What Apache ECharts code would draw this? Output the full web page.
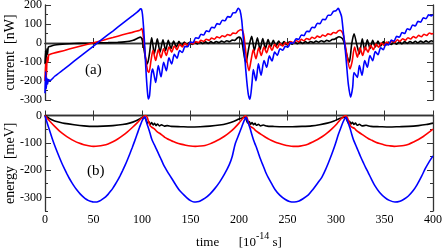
<!DOCTYPE html>
<html>
<head>
<meta charset="utf-8">
<script src="https://cdn.jsdelivr.net/npm/echarts@6/dist/echarts.min.js"></script>
<style>html,body{margin:0;padding:0;background:#fff;}#c{width:443px;height:249px;}</style>
</head>
<body>
<div id="c"></div>
<script>
// x ticks / labels
var xTicks = [0, 50, 100, 150, 200, 250, 300, 350, 400];
var curTicks = [-300, -200, -100, 0, 100, 200];
var enTicks = [-300, -200, -100, 0];

// panel (a): current [nW], [time, value]
var curBlack = [[0,-110],[0.6,-40],[1.2,-120],[1.9,-30],[2.6,-60],[3.4,-22],[5,-18],[8,-13],[12,-9],[18,-6],[25,-4],[35,-2],[45,-1],[55,1],[65,2],[75,4],[82,6],[87,9],[91,14],[94,21],[96.5,28],[98.5,31],
[100,20],[101.4,-13],[102.6,-50],[103.8,-84],[105.3,-110],[106.6,-90],[107.9,-48],[109,0],[110,27],[112.7,-57],[115.8,22],[118.6,-48],[121.6,17],[124.4,-39],[127.1,14],[129.9,-30],[132.6,10],[135.4,-21],[138.1,9],[140.8,-16],[143.6,5],[146.3,-10],[149,4],[151.8,-7],[154.5,4],[157.2,-5],[160,5],[162.7,-3],[165.5,6],[168.2,-2],[171,7],[173.7,0],[176.5,8],[179.2,2],[182,10],[184.7,4],[187.5,12],[190.2,7],[193,15],[195.7,14],[198,25],[200,31],[201.5,28],
[203,10],[204.5,-40],[206,-85],[207.2,-101],[208.4,-75],[209.6,-39],[211.3,5],[213.1,35],[215.9,-39],[219,28],[221.7,-35],[224.5,23],[227.2,-30],[230,18],[232.6,-21],[235.4,14],[238.1,-18],[240.9,10],[243.6,-12],[246.4,7],[249.1,-9],[251.9,6],[254.6,-6],[257.4,5],[260.1,-4],[262.9,6],[265.6,-2],[268.4,7],[271.1,0],[273.9,8],[276.6,2],[279.4,10],[282.1,4],[284.9,12],[287.6,6],[290.4,14],[293.1,9],[296,18],[298.5,20],[301,28],[303,33],
[305,30],[307,20],[309,-10],[311,-60],[313.7,-101],[315,-60],[316.2,-4],[318.6,49],[321.5,-10],[324.1,-57],[327.1,22],[329.6,-39],[332.3,17],[335.1,-30],[337.8,14],[340.5,-21],[343.3,10],[346,-16],[348.8,7],[351.5,-11],[354.3,5],[357,-8],[359.8,5],[362.5,-6],[365.3,6],[368,-4],[370.8,7],[373.5,-2],[376.3,8],[379,0],[381.8,9],[384.5,1],[387.3,10],[390,3],[392.8,11],[395.5,4],[398.3,12],[400,8]];

var curRed = [[0,-200],[0.7,-110],[1.4,-180],[2.2,-75],[3,-100],[3.8,-62],[5,-60],[8.6,-54],[20,-39],[30,-25],[40,-12],[50,1],[60,15],[70,29],[80,43],[90,56],[95,63],[98,68],[99.7,76],[101,50],[101.7,14],[102.8,-35],[103.8,-84],[105.8,-146],[107.2,-155],[109.3,-92],[111.3,-39],[114.1,-92],[116.8,-35],[119.6,-78],[122.3,-30],[125.1,-66],[127.8,-21],[130.6,-48],[133.3,-16],[136.1,-35],[138.8,-7],[141.6,-21],[144.3,-2],[147.1,-12],[149.8,3],[152.6,-5],[155.3,8],[158.1,2],[160.8,14],[163.6,8],[166.3,20],[169.1,14],[171.8,26],[174.6,20],[177.3,32],[180.1,27],[182.8,38],[185.6,33],[188.3,45],[191.1,40],[193.8,52],[196.6,50],[199,62],[201.5,70],[203.5,66],
[205.2,32],[206.6,-30],[208,-92],[210.3,-146],[212.4,-92],[214.8,-35],[217.5,-83],[220.3,-25],[223,-66],[225.8,-21],[228.5,-52],[231.3,-12],[234,-39],[236.8,-7],[239.5,-27],[242.3,-2],[245,-16],[247.8,3],[250.5,-8],[253.3,8],[256,0],[258.8,13],[261.5,6],[264.3,19],[267,12],[269.8,24],[272.5,18],[275.3,30],[278,24],[280.8,36],[283.5,30],[286.3,42],[289,36],[291.8,48],[294.5,44],[297.3,55],[300,52],[302,62],[304.1,67],[306,60],
[307.6,41],[309.3,-5],[311,-57],[314.4,-137],[316.5,-101],[319.2,-21],[322,-75],[324.7,-25],[327.5,-66],[330.2,-21],[333,-48],[335.7,-12],[338.5,-35],[341.2,-5],[344,-22],[346.7,0],[349.5,-12],[352.2,5],[355,-4],[357.7,11],[360.5,3],[363.2,17],[366,9],[368.7,22],[371.5,15],[374.2,28],[377,21],[379.7,34],[382.5,27],[385.2,40],[388,33],[390.7,46],[393.5,40],[396.2,53],[399,47],[400,52]];

var curBlue = [[0,-265],[0.7,-150],[1.3,-240],[2,-185],[2.7,-215],[3.5,-192],[5,-198],[10,-175],[20,-136],[30,-96],[40,-56],[50,-16],[60,24],[70,63],[80,103],[90,143],[95,163],[97,172],[98.5,180],[99.5,178],[100.5,150],[101.5,90],[102.5,10],[103.5,-90],[104.5,-180],[105.5,-250],[106.5,-295],[107.7,-280],[108.7,-220],[109.8,-160],[111,-137],[112.5,-170],[114.1,-208],[116.8,-119],[119.6,-178],[122.3,-101],[125.1,-146],[127.8,-78],[130.6,-110],[133.3,-60],[136.1,-80],[138.8,-40],[141.6,-50],[144.3,-18],[147.1,-20],[149.8,5],[152.6,2],[155.3,28],[158.1,24],[160.8,46],[163.6,42],[166.3,64],[169.1,60],[171.8,83],[174.6,79],[177.3,102],[180.1,98],[182.8,120],[185.6,117],[188.3,139],[191.1,136],[193.8,158],[196.6,160],[199.3,182],
[201,172],[202.8,120],[204.5,20],[206.2,-93],[208,-200],[209.6,-270],[211.3,-296],[213.4,-211],[214.8,-140],[217.5,-199],[220,-110],[222.7,-170],[225.8,-93],[228.6,-128],[231.3,-68],[234,-95],[236.8,-48],[239.5,-65],[242.3,-30],[245,-38],[247.8,-18],[250.5,-22],[253.3,2],[256,-1],[258.8,22],[261.5,19],[264.3,42],[267,39],[269.8,62],[272.5,60],[275.3,83],[278,81],[280.8,104],[283.5,102],[286.3,125],[289,123],[291.8,146],[294.5,146],[297.3,166],[300,170],[302.4,182],
[304,165],[305.8,138],[307.5,60],[309.3,-22],[311,-120],[312.7,-216],[315.1,-285],[317.2,-232],[318.6,-155],[322,-181],[324.1,-119],[326.8,-170],[329.6,-93],[332.3,-128],[335,-66],[337.8,-93],[340.5,-45],[343.3,-62],[346,-25],[348.8,-35],[351.5,-5],[354.3,-10],[357,15],[359.8,10],[362.5,35],[365.3,30],[368,55],[370.8,50],[373.5,75],[376.3,70],[379,95],[381.8,90],[384.5,114],[387.3,110],[390,132],[392.8,128],[395.5,148],[398.3,143],[400,150]];

// panel (b): energy [meV]
var enBlack = [[0,0],[2,-5],[5,-12],[10,-20],[15,-25],[20,-29],[30,-34],[40,-38],[50,-40],[60,-39],[70,-37],[80,-33],[88,-27],[94,-19],[98,-12],[100,-7],[102,-6],
[104,-15],[105.5,-28],[107,-22],[108.5,-33],[110,-26],[111.5,-35],[113,-29],[114.5,-37],[116,-31],[118,-38],[120,-34],[123,-39],[126,-37],[130,-40],[140,-41],[150,-42],[160,-41],[170,-39],[180,-35],[188,-29],[195,-21],[200,-13],[204,-8],[206,-6],
[207.5,-15],[209,-27],[210.5,-22],[212,-32],[213.5,-26],[215,-34],[216.5,-29],[218,-36],[220,-32],[222,-38],[225,-35],[229,-39],[235,-40],[245,-41],[255,-41],[265,-40],[275,-38],[283,-34],[291,-28],[298,-20],[303,-12],[307,-8],[309.5,-6],
[311,-14],[312.5,-27],[314,-21],[315.5,-31],[317,-25],[318.5,-33],[320,-28],[322,-36],[324,-32],[327,-38],[331,-36],[336,-40],[345,-41],[355,-42],[365,-41],[375,-40],[385,-37],[393,-33],[400,-28]];

var enRed = [[0,0],[2,-9],[5,-21],[10,-40],[15,-57],[20,-71],[25,-83],[30,-93],[35,-101],[40,-107],[45,-111],[50,-113],[55,-112],[60,-109],[65,-104],[70,-96],[75,-86],[80,-74],[85,-60],[90,-44],[95,-27],[99,-12],[102,-3],[104,0],
[105.5,-8],[107,-25],[108.5,-38],[110.5,-44],[112.5,-48],[114.5,-56],[116.5,-62],[118.5,-66],[121,-73],[123.5,-80],[126,-85],[129,-90],[132,-95],[136,-101],[140,-105],[145,-109],[150,-112],[155,-113],[160,-112],[165,-110],[170,-104],[175,-96],[180,-87],[185,-76],[190,-63],[195,-47],[200,-28],[204,-10],[206.5,-1],
[208,-5],[209.5,-22],[211,-37],[213,-43],[215,-47],[217,-55],[219,-60],[221,-65],[224,-72],[227,-79],[230,-85],[233,-91],[237,-97],[241,-102],[246,-107],[251,-111],[256,-113],[261,-113],[266,-110],[271,-105],[276,-97],[281,-88],[286,-77],[291,-64],[296,-48],[301,-30],[305,-13],[308.5,-2],[310.3,0],
[312,-10],[313.5,-25],[315,-38],[317,-44],[319,-47],[321,-55],[323,-60],[325,-65],[328,-72],[331,-79],[334,-86],[337,-91],[341,-98],[345,-103],[350,-108],[355,-111],[360,-113],[365,-112],[370,-110],[375,-105],[380,-97],[385,-88],[390,-77],[395,-64],[400,-50]];

var enBlue = [[0,-2],[2.5,-30],[5,-58],[7.5,-85],[10,-110],[12.5,-133],[15,-155],[17.5,-176],[20,-195],[22.5,-213],[25,-230],[27.5,-245],[30,-259],[32.5,-271],[35,-282],[37.5,-292],[40,-300],[42.5,-307],[45,-312],[47.5,-315],[50,-317],[52.5,-317],[55,-315],[57.5,-311],[60,-305],[62.5,-298],[65,-289],[67.5,-278],[70,-266],[72.5,-252],[75,-237],[77.5,-220],[80,-202],[82.5,-183],[85,-162],[87.5,-140],[90,-117],[92.5,-93],[95,-68],[97.5,-43],[100,-20],[101.8,-9],[103.3,-6],
[104.8,-27],[106.5,-45],[108.2,-64],[110,-86],[111.7,-100],[113.4,-112],[115.1,-125],[117,-140],[119,-155],[122,-179],[125,-198],[128,-216],[132.3,-240],[136,-261],[139,-276],[142.6,-289],[146,-301],[150,-312],[153.6,-317],[157,-316],[160,-313],[165,-303],[170,-288],[175,-268],[180,-244],[185,-215],[190,-180],[193,-150],[196,-105],[200,-68],[203,-40],[205.5,-17],[207.2,-7],
[209,-22],[211.3,-46],[213,-67],[214.8,-88],[216.5,-104],[218.2,-119],[220,-138],[221.6,-155],[223.5,-172],[225.1,-186],[227.5,-208],[230.2,-228],[233.5,-249],[237.1,-271],[242,-292],[247.4,-307],[252,-315],[257,-317],[262,-313],[266,-305],[271.5,-291],[276,-272],[281,-248],[285.2,-228],[289,-200],[292,-175],[295.5,-143],[299,-108],[302.4,-70],[305,-45],[307.5,-22],[310.3,-7],
[312,-22],[314.4,-46],[316,-66],[317.9,-88],[320.5,-110],[323,-131],[325.5,-152],[328.2,-173],[330.7,-192],[333.3,-210],[336.5,-233],[340.2,-258],[345,-282],[350.5,-301],[355,-311],[360.8,-317],[366,-314],[370,-307],[374.6,-295],[379,-278],[383.5,-254],[388.3,-222],[392,-195],[396,-170],[400,-148]];

var FONT = 'Liberation Serif';
var AX = '#333';
var chart = echarts.init(document.getElementById('c'), null, {renderer: 'canvas'});

function xAx(grid, pos, labels, name) {
  var o = {
    type: 'value', gridIndex: grid, position: pos, min: 0, max: 400, interval: 50,
    axisLine: {show: true, lineStyle: {color: AX, width: 1.3}},
    axisTick: {show: true, inside: true, length: 5, lineStyle: {color: AX, width: 1}},
    axisLabel: {show: labels, margin: 3, fontFamily: FONT, fontSize: 12, color: '#000',
      customValues: labels ? xTicks : undefined},
    splitLine: {show: false}
  };
  if (name) {
    o.name = '{n|time      [10}{sup|-14}{n| s]}';
    o.nameLocation = 'middle';
    o.nameGap = 20;
    o.nameMoveOverlap = false;
    o.nameTextStyle = {fontFamily: FONT, rich: {
      n: {fontFamily: FONT, fontSize: 13, color: '#000', lineHeight: 18, verticalAlign: 'bottom'},
      sup: {fontFamily: FONT, fontSize: 10, color: '#000', lineHeight: 18, verticalAlign: 'top'}
    }};
  }
  return o;
}
function yAx(grid, pos, min, max, majors, labels, tickLen, name, minorOnly) {
  var o = {
    type: 'value', gridIndex: grid, position: pos, min: min, max: max,
    axisLine: {show: !minorOnly, lineStyle: {color: AX, width: 1.3}},
    splitLine: {show: false},
    axisLabel: {show: labels, margin: 3, fontFamily: FONT, fontSize: 12, color: '#000', customValues: majors},
    axisTick: {show: true, inside: true, length: tickLen, lineStyle: {color: AX, width: 1}}
  };
  if (minorOnly) {
    o.interval = 50;
    o.axisLabel = {show: false};
  } else {
    o.axisTick.customValues = majors;
  }
  if (name) {
    o.name = name; o.nameLocation = 'middle'; o.nameGap = 28; o.nameMoveOverlap = false;
    o.nameTextStyle = {fontFamily: FONT, fontSize: 14, color: '#000'};
  }
  return o;
}

function ser(data, color, xi, yi) {
  return {type: 'line', data: data, xAxisIndex: xi, yAxisIndex: yi, showSymbol: false, symbol: 'none',
    smooth: 0.25, lineStyle: {color: color, width: 1.6}, itemStyle: {color: color}, animation: false, z: 3};
}

chart.setOption({
  animation: false,
  backgroundColor: '#fff',
  grid: [
    {left: 45, right: 10, top: 5, height: 95, containLabel: false, outerBoundsMode: 'none'},
    {left: 45, right: 10, top: 115.5, bottom: 38, containLabel: false, outerBoundsMode: 'none'}
  ],
  xAxis: [xAx(0, 'bottom', false), xAx(0, 'top', false), xAx(1, 'bottom', true, true), xAx(1, 'top', false)],
  yAxis: [
    yAx(0, 'left', -300, 200, curTicks, true, 6, 'current  [nW]'),
    yAx(0, 'left', -300, 200, curTicks, false, 3, null, true),
    yAx(0, 'right', -300, 200, curTicks, false, 6),
    yAx(0, 'right', -300, 200, curTicks, false, 3, null, true),
    yAx(1, 'left', -350, 0, enTicks, true, 6, 'energy  [meV]'),
    yAx(1, 'left', -350, 0, enTicks, false, 3, null, true),
    yAx(1, 'right', -350, 0, enTicks, false, 6),
    yAx(1, 'right', -350, 0, enTicks, false, 3, null, true)
  ],
  series: [
    ser(curBlack, '#000000', 0, 0),
    ser(curRed, '#ff0000', 0, 0),
    ser(curBlue, '#0000ff', 0, 0),
    ser(enBlack, '#000000', 2, 4),
    ser(enRed, '#ff0000', 2, 4),
    ser(enBlue, '#0000ff', 2, 4)
  ],
  graphic: [
    {type: 'text', left: 85, top: 63, style: {text: '(a)', font: '15px "Liberation Serif"', fill: '#000'}},
    {type: 'text', left: 87, top: 164, style: {text: '(b)', font: '15px "Liberation Serif"', fill: '#000'}}
  ]
});
</script>
</body>
</html>
